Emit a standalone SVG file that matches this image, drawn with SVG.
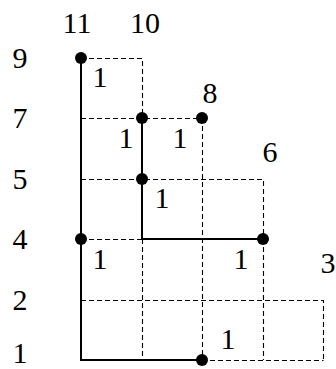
<svg xmlns="http://www.w3.org/2000/svg" width="336" height="369" viewBox="0 0 336 369">
<style>
.t{font-family:"Liberation Serif","DejaVu Serif",serif;font-size:30px;fill:#000;text-anchor:middle}
.d{stroke:#000;stroke-width:1.1;stroke-dasharray:5 3;fill:none}
.s{stroke:#000;stroke-width:2;fill:none}
.p{fill:#000}
</style>
<rect width="336" height="369" fill="#fff"/>
<g id="connectors">
<path class="d" d="M81 58.5H142.5V118 M81 118.5H202 M81 179.5H263.5V239 M81 239.5H142 M81 300.5H323.5V360 M202 360.5H323.5 M142.5 239V360 M202.5 118V360 M263.5 239V360"/>
<path class="s" d="M81 58V360H202 M142 118V239H263"/>
</g>
<g id="n11"><circle class="p" cx="81" cy="58" r="6"/></g>
<g id="n10a"><circle class="p" cx="142" cy="118" r="6"/></g>
<g id="n8"><circle class="p" cx="202" cy="118" r="6"/></g>
<g id="n5"><circle class="p" cx="142" cy="179" r="6"/></g>
<g id="n4"><circle class="p" cx="81" cy="239" r="6"/></g>
<g id="n6"><circle class="p" cx="263" cy="239" r="6"/></g>
<g id="n1"><circle class="p" cx="202" cy="360" r="6"/></g>
<g id="labels">
<text class="t" x="77" y="33">11</text>
<text class="t" x="145" y="33">10</text>
<text class="t" x="210" y="103">8</text>
<text class="t" x="270" y="162">6</text>
<text class="t" x="328" y="273">3</text>
<text class="t" x="20" y="68">9</text>
<text class="t" x="20" y="128">7</text>
<text class="t" x="20" y="189">5</text>
<text class="t" x="20" y="249">4</text>
<text class="t" x="20" y="310">2</text>
<text class="t" x="20" y="363">1</text>
<text class="t" x="100" y="87">1</text>
<text class="t" x="126" y="148">1</text>
<text class="t" x="180" y="148">1</text>
<text class="t" x="162" y="208">1</text>
<text class="t" x="100" y="269">1</text>
<text class="t" x="241" y="269">1</text>
<text class="t" x="228" y="349">1</text>
</g>
</svg>
